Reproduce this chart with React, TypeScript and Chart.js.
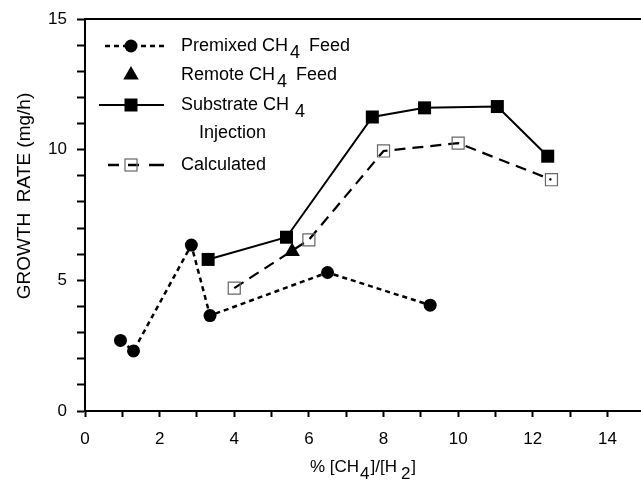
import React, { useEffect, useRef } from 'react';
import { Chart, registerables } from 'chart.js';

Chart.register(...registerables);

// ---- data ----
const premixedX = [0.95, 1.3, 2.85, 3.35, 6.5, 9.25];
const premixedY = [2.7, 2.3, 6.35, 3.65, 5.3, 4.05];
const remoteX = [5.55];
const remoteY = [6.1];
const substrateX = [3.3, 5.4, 7.7, 9.1, 11.05, 12.4];
const substrateY = [5.8, 6.65, 11.25, 11.6, 11.65, 9.75];
const calculatedX = [4.0, 6.0, 8.0, 10.0, 12.5];
const calculatedY = [4.7, 6.55, 9.95, 10.25, 8.85];

const xTickValues = [0, 2, 4, 6, 8, 10, 12, 14];
const yTickValues = [0, 5, 10, 15];
const yTitle = 'GROWTH  RATE (mg/h)';
const xTitleParts = ['% [CH', '4', ']/[H', '2', ']'];
const legendRows = [
  ['Premixed CH', '4', 'Feed'],
  ['Remote CH', '4', 'Feed'],
  ['Substrate CH', '4', ''],
  ['Calculated', '', ''],
];
const legendExtra = 'Injection';

const FONT = "'Liberation Sans', Arial, Helvetica, sans-serif";

const toPts = (xs: number[], ys: number[]) => xs.map((x, i) => ({ x, y: ys[i] }));

const decorPlugin = {
  id: 'decor',
  afterDraw(chart: any) {
    const { ctx, chartArea } = chart;
    ctx.save();
    ctx.strokeStyle = '#000';
    ctx.fillStyle = '#000';
    // top frame line
    ctx.lineWidth = 2;
    ctx.beginPath();
    ctx.moveTo(chartArea.left, chartArea.top);
    ctx.lineTo(chartArea.right, chartArea.top);
    ctx.stroke();

    // y title
    ctx.save();
    ctx.font = `19px ${FONT}`;
    ctx.textAlign = 'center';
    ctx.textBaseline = 'middle';
    ctx.translate(25, 196);
    ctx.rotate(-Math.PI / 2);
    ctx.fillText(yTitle, 0, 0);
    ctx.restore();

    // x title with lowered digits
    const tsize = 17;
    ctx.font = `${tsize}px ${FONT}`;
    ctx.textBaseline = 'middle';
    ctx.textAlign = 'left';
    const gaps = [0, 1, 1, 4, 1];
    let total = 0;
    xTitleParts.forEach((p, i) => { total += ctx.measureText(p).width + gaps[i]; });
    let tx = (chartArea.left + chartArea.right) / 2 - total / 2;
    const ty = 467;
    xTitleParts.forEach((p, i) => {
      tx += gaps[i];
      const sub = i === 1 || i === 3;
      ctx.fillText(p, tx, sub ? ty + 7 : ty);
      tx += ctx.measureText(p).width;
    });

    // legend
    const lsize = 18;
    ctx.font = `${lsize}px ${FONT}`;
    const textX = 181;
    const rowY = [46, 75, 105, 165];
    const mx = 131;
    // row 1: dotted + circle
    ctx.lineWidth = 2.5;
    ctx.setLineDash([5, 4]);
    ctx.beginPath();
    ctx.moveTo(105, rowY[0]);
    ctx.lineTo(166, rowY[0]);
    ctx.stroke();
    ctx.setLineDash([]);
    ctx.beginPath();
    ctx.arc(mx, rowY[0], 6.5, 0, Math.PI * 2);
    ctx.fill();
    // row 2: triangle
    const tr = 9;
    ctx.beginPath();
    ctx.moveTo(mx, rowY[1] - tr);
    ctx.lineTo(mx + tr * 0.866, rowY[1] + tr * 0.5);
    ctx.lineTo(mx - tr * 0.866, rowY[1] + tr * 0.5);
    ctx.closePath();
    ctx.fill();
    // row 3: solid + filled square
    ctx.lineWidth = 2;
    ctx.beginPath();
    ctx.moveTo(99, rowY[2]);
    ctx.lineTo(164, rowY[2]);
    ctx.stroke();
    ctx.fillRect(mx - 6.5, rowY[2] - 6.5, 13, 13);
    // row 4: dashed + hollow square
    ctx.lineWidth = 2.5;
    [[108, 119], [128, 139], [149, 164]].forEach(([a, b]) => {
      ctx.beginPath();
      ctx.moveTo(a, rowY[3]);
      ctx.lineTo(b, rowY[3]);
      ctx.stroke();
    });
    ctx.strokeStyle = '#666';
    ctx.lineWidth = 1.2;
    ctx.strokeRect(mx - 6, rowY[3] - 6, 12, 12);
    ctx.strokeStyle = '#000';

    legendRows.forEach((row, i) => {
      let x = textX;
      const y = rowY[i];
      ctx.fillText(row[0], x, y);
      x += ctx.measureText(row[0]).width;
      if (row[1]) {
        x += i === 2 ? 6 : 2;
        ctx.fillText(row[1], x, y + 7);
        x += ctx.measureText(row[1]).width;
      }
      if (row[2]) {
        x += 9;
        ctx.fillText(row[2], x, y);
      }
    });
    ctx.fillText(legendExtra, 199, 133);
    ctx.restore();
  },
};

export default function App() {
  const ref = useRef<HTMLCanvasElement | null>(null);
  useEffect(() => {
    if (!ref.current) return;
    const chart = new Chart(ref.current, {
      type: 'scatter',
      data: {
        datasets: [
          {
            label: 'Premixed CH4 Feed',
            data: toPts(premixedX, premixedY),
            showLine: true,
            borderColor: '#000',
            borderWidth: 2.5,
            borderDash: [5, 4],
            pointStyle: 'circle',
            pointRadius: 6.5,
            pointBackgroundColor: '#000',
            pointBorderWidth: 0,
          },
          {
            label: 'Remote CH4 Feed',
            data: toPts(remoteX, remoteY),
            showLine: false,
            pointStyle: 'triangle',
            pointRadius: 9,
            pointBackgroundColor: '#000',
            pointBorderColor: '#000',
            pointBorderWidth: 0,
          },
          {
            label: 'Substrate CH4 Injection',
            data: toPts(substrateX, substrateY),
            showLine: true,
            borderColor: '#000',
            borderWidth: 2,
            pointStyle: 'rect',
            pointRadius: 9.2,
            pointBackgroundColor: '#000',
            pointBorderWidth: 0,
          },
          {
            label: 'Calculated',
            data: toPts(calculatedX, calculatedY),
            showLine: true,
            borderColor: '#000',
            borderWidth: 2.2,
            borderDash: [11, 7],
            pointStyle: 'rect',
            pointRadius: 8.5,
            pointBackgroundColor: 'rgba(0,0,0,0)',
            pointBorderColor: '#666',
            pointBorderWidth: 1.2,
          },
        ],
      },
      options: {
        animation: false,
        responsive: false,
        devicePixelRatio: 1,
        clip: false as any,
        layout: { autoPadding: false, padding: { top: 19, left: 0, right: 0, bottom: 0 } },
        plugins: { legend: { display: false }, tooltip: { enabled: false } },
        scales: {
          x: {
            type: 'linear',
            min: 0,
            max: 14.9,
            afterBuildTicks: (scale: any) => {
              const t = [];
              for (let v = 0; v <= 14; v++) t.push({ value: v });
              scale.ticks = t;
            },
            afterFit: (scale: any) => {
              scale.height = 71;
              scale.paddingRight = 0;
              scale.paddingLeft = 0;
            },
            ticks: {
              color: '#000',
              font: { family: FONT, size: 17 },
              padding: 12,
              maxRotation: 0,
              autoSkip: false,
              callback: (v: any) => (xTickValues.includes(Number(v)) ? String(v) : ''),
            },
            grid: { drawOnChartArea: false, drawTicks: true, tickLength: 6, tickWidth: 2, tickColor: '#000', color: '#000' },
            border: { display: true, color: '#000', width: 2 },
          },
          y: {
            type: 'linear',
            min: 0,
            max: 15,
            afterBuildTicks: (scale: any) => {
              const t = [];
              for (let v = 0; v <= 15; v++) t.push({ value: v });
              scale.ticks = t;
            },
            afterFit: (scale: any) => {
              scale.width = 85;
              scale.paddingTop = 0;
              scale.paddingBottom = 0;
            },
            ticks: {
              color: '#000',
              font: { family: FONT, size: 17 },
              padding: 10,
              autoSkip: false,
              callback: (v: any) => (yTickValues.includes(Number(v)) ? String(v) : ''),
            },
            grid: { drawOnChartArea: false, drawTicks: true, tickLength: 8, tickWidth: 2, tickColor: '#000', color: '#000' },
            border: { display: true, color: '#000', width: 2 },
          },
        },
      },
      plugins: [decorPlugin],
    });
    return () => chart.destroy();
  }, []);

  return (
    <div style={{ position: 'fixed', left: 0, top: 0, width: 641, height: 482, background: '#fff' }}>
      <canvas ref={ref} width={641} height={482} style={{ display: 'block', width: 641, height: 482 }} />
    </div>
  );
}
